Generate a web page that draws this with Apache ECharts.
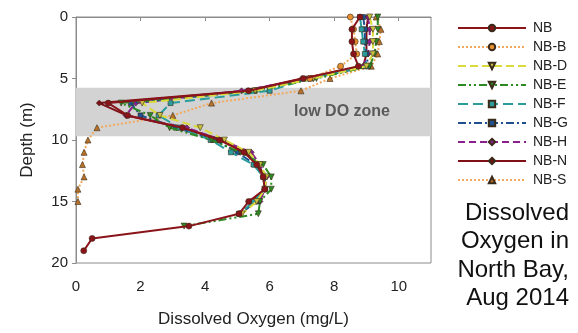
<!DOCTYPE html>
<html>
<head>
<meta charset="utf-8">
<script src="https://cdn.jsdelivr.net/npm/echarts@6/dist/echarts.min.js"></script>
<style>
  html, body { margin: 0; padding: 0; background: #fff; }
  #chart { width: 578px; height: 333px; }
</style>
</head>
<body>
<div id="chart"></div>
<script>
// depth of each sample (m)
const depths = [0, 1, 2, 3, 4, 5, 6, 7, 8, 9, 10, 11, 12, 13, 14, 15, 16, 17, 18, 19]

// dissolved oxygen (mg/L) per station, indexed by depth
const doNB  = [8.8, 8.55, 8.55, 8.6, 8.75, 7.05, 5.35, 1.0, 1.6, 3.3, 4.45, 5.2, 5.6, 5.8, 5.85, 5.35, 5.05, 3.5, 0.5, 0.24]
const doNBB = [8.5, 8.6, 8.65, 8.7, 8.2, 7.25]
const doNBD = [9.1, 9.2, 9.2, 9.2, 9.0, 7.35, 5.55, 2.05, 2.6, 3.85, 4.6, 5.35, 5.7, 5.9, 5.85, 5.6, 5.15]
const doNBE = [9.35, 9.35, 9.3, 9.25, 9.1, 7.45, 5.6, 1.4, 2.3, 2.9, 4.2, 5.1, 5.8, 6.05, 6.05, 5.7, 5.65, 3.35]
const doNBF = [8.8, 8.85, 8.9, 8.95, 9.0, 7.2, 6.0, 2.93, 2.56, 3.2, 4.17, 4.8, 5.5, 5.8, 5.85, 5.5, 5.05]
const doNBG = [8.9, 8.95, 8.95, 9.0, 9.05, 7.3, 5.5, 1.7, 2.0, 3.1, 4.3, 5.0, 5.55, 5.85, 5.85, 5.6, 5.08]
const doNBH = [9.05, 9.1, 9.1, 9.05, 8.9, 7.2, 5.13, 1.85, 1.55, 3.43, 4.5, 5.43, 5.7, 5.9, 5.85, 5.7]
const doNBN = [9.05, 9.0, 9.0, 9.0, 8.9, 7.0, 5.3, 0.72, 1.57, 3.3, 4.55, 5.25, 5.65, 5.85, 5.85, 5.4]
const doNBS = [9.3, 9.45, 9.4, 9.35, 9.15, 7.87, 6.97, 4.2, 3.0, 0.65, 0.37, 0.25, 0.2, 0.25, 0.06, 0.06]

// low DO band (m)
const lowZone = [5.75, 9.7]

const stations = [
  { name: 'NB',   values: doNB,  color: '#8a1419', dash: 'solid',            symbol: 'circle',   fill: '#8a1419' },
  { name: 'NB-B', values: doNBB, color: '#f2a95e', dash: [2, 2],             symbol: 'circle',   fill: '#e8902e' },
  { name: 'NB-D', values: doNBD, color: '#dada3a', dash: [8, 4],             symbol: 'triangle', fill: '#c9c242', rotate: 180 },
  { name: 'NB-E', values: doNBE, color: '#2c8a22', dash: [8, 3, 2, 3, 2, 3], symbol: 'triangle', fill: '#2c8a22', rotate: 180 },
  { name: 'NB-F', values: doNBF, color: '#2a9c9c', dash: [10, 5],            symbol: 'rect',     fill: '#2a9c9c' },
  { name: 'NB-G', values: doNBG, color: '#1f4f8c', dash: [8, 3, 2, 3],       symbol: 'rect',     fill: '#1f4f8c' },
  { name: 'NB-H', values: doNBH, color: '#8b1f8b', dash: [7, 4],             symbol: 'diamond',  fill: '#8b1f8b' },
  { name: 'NB-N', values: doNBN, color: '#7e1016', dash: 'solid',            symbol: 'diamond',  fill: '#7e1016' },
  { name: 'NB-S', values: doNBS, color: '#f2a95e', dash: [2, 2],             symbol: 'triangle', fill: '#b8722a' }
]

const chart = echarts.init(document.getElementById('chart'))

const series = stations.map((s, i) => ({
  name: s.name,
  type: 'line',
  data: s.values.map((v, k) => [v, depths[k]]),
  symbol: s.symbol,
  symbolSize: s.symbol === 'rect' ? 5 : 6,
  symbolRotate: s.rotate || 0,
  showSymbol: true,
  animation: false,
  lineStyle: { color: s.color, width: 2, type: s.dash },
  itemStyle: { color: s.fill, borderColor: '#3a2a1a', borderWidth: 0.6 },
  emphasis: { disabled: true },
  z: 10 - i
}))

// gray low DO band goes behind the lines
series[0].markArea = {
  silent: true,
  itemStyle: { color: '#d3d3d3' },
  label: {
    show: true,
    position: 'insideRight',
    offset: [-36, 0],
    color: '#5a5a5a',
    fontSize: 16,
    fontWeight: 'bold',
    fontFamily: 'Liberation Sans, Arial, sans-serif'
  },
  data: [[{ name: 'low DO zone', yAxis: lowZone[0] }, { yAxis: lowZone[1] }]]
}

chart.setOption({
  backgroundColor: '#fff',
  textStyle: { fontFamily: 'Liberation Sans, Arial, sans-serif' },
  graphic: [{
    type: 'text',
    x: 569,
    y: 199,
    style: {
      text: 'Dissolved\nOxygen in\nNorth Bay,\nAug 2014',
      align: 'right',
      verticalAlign: 'top',
      fontSize: 24,
      lineHeight: 28.5,
      fontFamily: 'Liberation Sans, Arial, sans-serif',
      fill: '#111'
    }
  }],
  legend: {
    orient: 'vertical',
    left: 452,
    top: 15.5,
    itemWidth: 68,
    itemHeight: 8,
    itemGap: 4,
    textStyle: { fontSize: 14, color: '#222', lineHeight: 15, padding: [0, 0, 0, 2] },
    data: stations.map(s => s.name)
  },
  grid: {
    left: 76,
    right: 147,
    top: 17,
    bottom: 68,
    show: true,
    borderColor: '#8c8c8c',
    borderWidth: 1
  },
  xAxis: {
    type: 'value',
    min: 0,
    max: 11,
    interval: 2,
    name: 'Dissolved Oxygen (mg/L)',
    nameLocation: 'middle',
    nameGap: 48,
    nameTextStyle: { fontSize: 17, color: '#222' },
    axisLine: { show: true, lineStyle: { color: '#8c8c8c' } },
    axisTick: { show: true, length: 4, lineStyle: { color: '#8c8c8c' } },
    axisLabel: { fontSize: 15, color: '#222', margin: 16, showMaxLabel: false },
    splitLine: { show: false }
  },
  yAxis: {
    type: 'value',
    inverse: true,
    min: 0,
    max: 20,
    interval: 5,
    name: 'Depth (m)',
    nameLocation: 'middle',
    nameGap: 40,
    nameTextStyle: { fontSize: 17, color: '#222' },
    axisLine: { show: true, lineStyle: { color: '#8c8c8c' } },
    axisTick: { show: true, length: 4, lineStyle: { color: '#8c8c8c' } },
    axisLabel: { fontSize: 15, color: '#222', margin: 8 },
    splitLine: { show: false }
  },
  series: series
})
</script>
</body>
</html>
